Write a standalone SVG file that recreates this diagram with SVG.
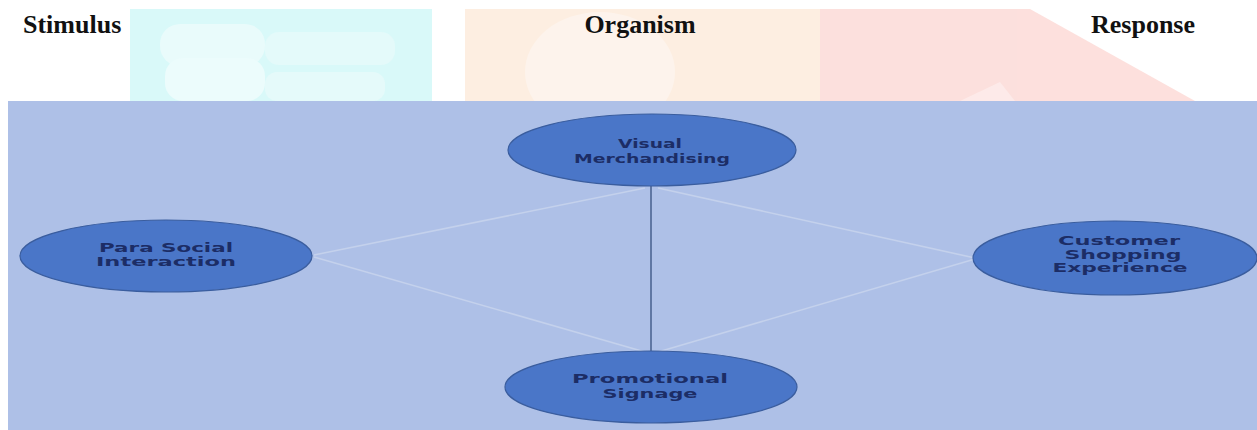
<svg xmlns="http://www.w3.org/2000/svg" width="1257" height="430" viewBox="0 0 1257 430">
  <style>
    .head { font-family: "Liberation Serif", "Times New Roman", serif; font-weight: bold; font-size: 26px; fill: #111; }
    .node ellipse { fill: #4a76c8; stroke: #3a5d9e; stroke-width: 1.2; }
    .node text { font-family: "DejaVu Sans", "Verdana", sans-serif; font-weight: bold; font-size: 12.5px; fill: #1c2d66; }
    .link { stroke: #c4d1ec; stroke-width: 1.6; fill: none; }
    .axis { stroke: #2c4677; stroke-width: 1.2; fill: none; }
  </style>

  <rect x="0" y="0" width="1257" height="430" fill="#ffffff"/>

  <!-- faint background band behind the headings -->
  <g id="band" opacity="0.75">
    <rect x="130" y="9" width="302" height="92" fill="#cdf8f8"/>
    <rect x="160" y="24" width="105" height="42" rx="20" fill="#e2fafa"/>
    <rect x="165" y="58" width="100" height="43" rx="18" fill="#e6fbfb"/>
    <rect x="265" y="32" width="130" height="33" rx="14" fill="#dbf9f9"/>
    <rect x="265" y="72" width="120" height="29" rx="12" fill="#ddf9f9"/>
    <rect x="465" y="9" width="355" height="92" fill="#fde9d8"/>
    <ellipse cx="600" cy="72" rx="75" ry="60" fill="#fdf0e6"/>
    <path d="M820 9 L1030 9 L1195 101 L820 101 Z" fill="#fcd6d2"/>
    <path d="M960 101 L1000 82 L1015 101 Z" fill="#fde4e2"/>
  </g>

  <!-- column headings -->
  <text class="head" x="23" y="33">Stimulus</text>
  <text class="head" x="640" y="33" text-anchor="middle">Organism</text>
  <text class="head" x="1143" y="33" text-anchor="middle">Response</text>

  <!-- model panel -->
  <rect x="8" y="101" width="1249" height="329" fill="#aec0e7"/>

  <g id="connectors">
    <line class="link" x1="314" y1="255" x2="645" y2="188"/>
    <line class="link" x1="314" y1="257" x2="645" y2="352"/>
    <line class="link" x1="975" y1="258" x2="658" y2="188"/>
    <line class="link" x1="975" y1="259" x2="658" y2="352"/>
    <line class="axis" x1="651" y1="186" x2="651" y2="352"/>
  </g>

  <g id="node-visual" class="node">
    <ellipse cx="652" cy="150" rx="144" ry="36"/>
    <text x="650" y="148" text-anchor="middle" textLength="64" lengthAdjust="spacingAndGlyphs">Visual</text>
    <text x="652" y="163" text-anchor="middle" textLength="156" lengthAdjust="spacingAndGlyphs">Merchandising</text>
  </g>

  <g id="node-parasocial" class="node">
    <ellipse cx="166" cy="256" rx="146" ry="36"/>
    <text x="166" y="252" text-anchor="middle" textLength="134" lengthAdjust="spacingAndGlyphs">Para Social</text>
    <text x="166" y="266" text-anchor="middle" textLength="140" lengthAdjust="spacingAndGlyphs">Interaction</text>
  </g>

  <g id="node-customer" class="node">
    <ellipse cx="1115" cy="258" rx="142" ry="37"/>
    <text x="1119" y="245" text-anchor="middle" textLength="122" lengthAdjust="spacingAndGlyphs">Customer</text>
    <text x="1123" y="259" text-anchor="middle" textLength="117" lengthAdjust="spacingAndGlyphs">Shopping</text>
    <text x="1120" y="272" text-anchor="middle" textLength="135" lengthAdjust="spacingAndGlyphs">Experience</text>
  </g>

  <g id="node-promotional" class="node">
    <ellipse cx="651" cy="387" rx="146" ry="36"/>
    <text x="650" y="383" text-anchor="middle" textLength="156" lengthAdjust="spacingAndGlyphs">Promotional</text>
    <text x="650" y="398" text-anchor="middle" textLength="95" lengthAdjust="spacingAndGlyphs">Signage</text>
  </g>
</svg>
